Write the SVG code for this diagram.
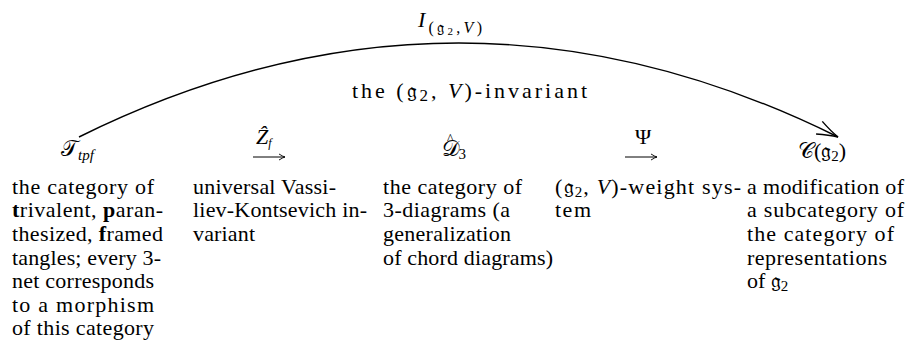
<svg xmlns="http://www.w3.org/2000/svg" width="908" height="343" viewBox="0 0 908 343">
<style>
.t { font-family: 'Liberation Serif', 'DejaVu Serif', serif; font-size: 22px; fill: #000; }
.h { font-family: 'Liberation Serif', 'DejaVu Serif', serif; font-size: 22px; fill: #000; }
.i { font-style: italic; }
.b { font-weight: bold; }
.conn { fill: none; stroke: #000; stroke-width: 1.4; }
.small { fill: none; stroke: #000; stroke-width: 1; }
</style>
<defs>
<marker id="big" markerUnits="userSpaceOnUse" markerWidth="30" markerHeight="20" viewBox="-22 -10 24 20" refX="0" refY="0" orient="auto">
<path d="M-21,-7 Q-9,-2 0,0 Q-9,2 -21,7" fill="none" stroke="#000" stroke-width="1.4"/>
</marker>
<marker id="sm" markerUnits="userSpaceOnUse" markerWidth="10" markerHeight="8" viewBox="-7 -4 8 8" refX="0" refY="0" orient="auto">
<path d="M-6,-3 Q-2,-0.5 0,0 Q-2,0.5 -6,3" fill="none" stroke="#000" stroke-width="0.9"/>
</marker>
</defs>

<g id="connectors">
<path class="conn" d="M79,137 Q459,-51 838,137" marker-end="url(#big)"/>
<text class="h" x="418" y="27" font-size="24" textLength="64" lengthAdjust="spacing"><tspan class="i">I</tspan><tspan font-size="16" dy="6">(𝔤</tspan><tspan font-size="11" dy="2">2</tspan><tspan font-size="16" dy="-2">,</tspan><tspan font-size="16" class="i">V</tspan><tspan font-size="16">)</tspan></text>
<text class="h" x="352" y="98" font-size="25" textLength="235" lengthAdjust="spacing">the (𝔤<tspan font-size="17" dy="3">2</tspan><tspan dy="-3">, </tspan><tspan class="i">V</tspan>)-invariant</text>

<g id="edge-zf">
<line class="small" x1="253" y1="157" x2="285" y2="157" marker-end="url(#sm)"/>
<text class="h i" x="256" y="144" font-size="16">Ẑ<tspan font-size="12" dy="3">f</tspan></text>
</g>
<g id="edge-psi">
<line class="small" x1="625" y1="157" x2="657" y2="157" marker-end="url(#sm)"/>
<text class="h" x="635" y="144" font-size="13">Ψ</text>
</g>
</g>

<g id="node-T">
<text class="h" x="61" y="156">𝒯<tspan font-size="15" class="i" dy="4">tpf</tspan></text>
<text class="t" y="194" x="12" textLength="142" lengthAdjust="spacing">the category of</text>
<text class="t" y="217" x="12" textLength="151" lengthAdjust="spacing"><tspan class="b">t</tspan>rivalent, <tspan class="b">p</tspan>aran-</text>
<text class="t" y="241" x="12" textLength="151" lengthAdjust="spacing">thesized, <tspan class="b">f</tspan>ramed</text>
<text class="t" y="265" x="12" textLength="149" lengthAdjust="spacing">tangles; every 3-</text>
<text class="t" y="288" x="12" textLength="142" lengthAdjust="spacing">net corresponds</text>
<text class="t" y="312" x="12" textLength="142" lengthAdjust="spacing">to a morphism</text>
<text class="t" y="335" x="12" textLength="142" lengthAdjust="spacing">of this category</text>
</g>

<g id="node-Z">
<text class="t" y="194" x="193" textLength="143" lengthAdjust="spacing">universal Vassi-</text>
<text class="t" y="217" x="193" textLength="174" lengthAdjust="spacing">liev-Kontsevich in-</text>
<text class="t" y="241" x="193" textLength="62" lengthAdjust="spacing">variant</text>
</g>

<g id="node-D">
<text class="h" x="442" y="156">𝒟<tspan font-size="14" dx="-13" dy="-12">^</tspan><tspan font-size="15" dx="5" dy="15">3</tspan></text>
<text class="t" y="194" x="383" textLength="139" lengthAdjust="spacing">the category of</text>
<text class="t" y="217" x="383" textLength="127" lengthAdjust="spacing">3-diagrams (a</text>
<text class="t" y="241" x="383" textLength="128" lengthAdjust="spacing">generalization</text>
<text class="t" y="265" x="383" textLength="170" lengthAdjust="spacing">of chord diagrams)</text>
</g>

<g id="node-W">
<text class="t" y="194" x="555" textLength="186" lengthAdjust="spacing">(𝔤<tspan font-size="15" dy="3">2</tspan><tspan dy="-3">, </tspan><tspan class="i">V</tspan>)-weight sys-</text>
<text class="t" y="217" x="555" textLength="36" lengthAdjust="spacing">tem</text>
</g>

<g id="node-C">
<text class="h" x="798" y="158">𝒞(𝔤<tspan font-size="15" dy="3">2</tspan><tspan dy="-3">)</tspan></text>
<text class="t" y="194" x="747" textLength="157" lengthAdjust="spacing">a modification of</text>
<text class="t" y="217" x="747" textLength="157" lengthAdjust="spacing">a subcategory of</text>
<text class="t" y="241" x="747" textLength="147" lengthAdjust="spacing">the category of</text>
<text class="t" y="265" x="747" textLength="140" lengthAdjust="spacing">representations</text>
<text class="t" y="288" x="747">of 𝔤<tspan font-size="15" dy="3">2</tspan></text>
</g>
</svg>
